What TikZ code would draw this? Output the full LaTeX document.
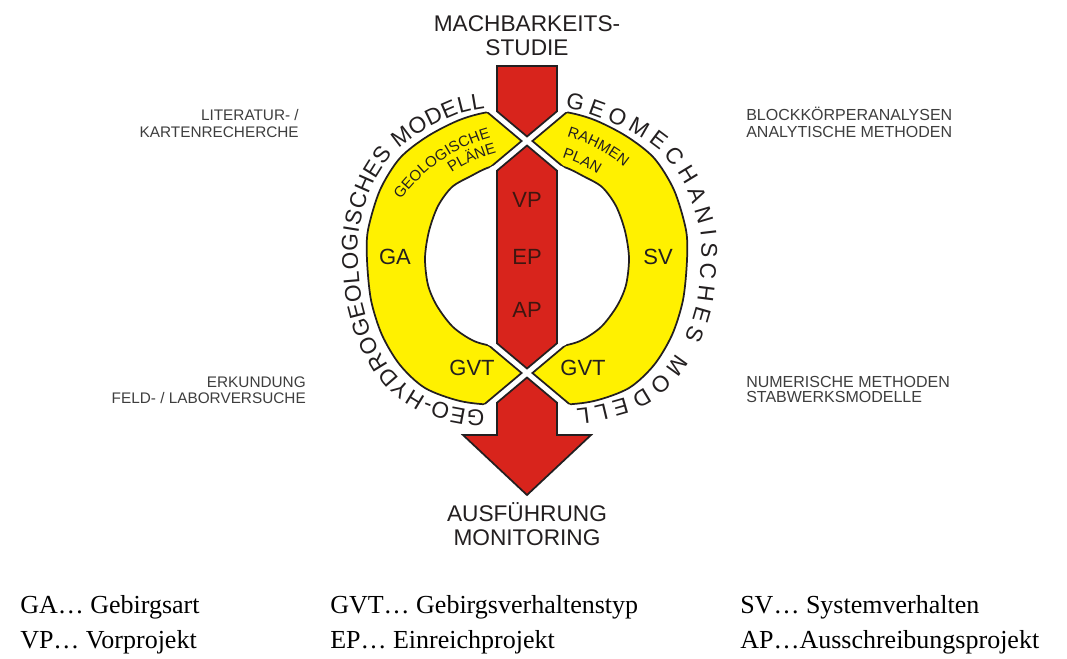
\documentclass[tikz,border=0pt]{standalone}
\usepackage{fontspec}
\setmainfont{Liberation Sans}
\newfontfamily\legendfont{Liberation Serif}
\usetikzlibrary{decorations.text}

\definecolor{ringyellow}{RGB}{255,241,0}
\definecolor{barred}{RGB}{216,36,28}
\definecolor{ink}{RGB}{35,31,32}
\definecolor{barink}{RGB}{62,22,16}
\definecolor{sidegray}{RGB}{62,62,62}

\tikzset{
  outline/.style={draw=ink, line width=1.3pt},
  redpiece/.style={outline, fill=barred},
  bandlabel/.style={font=\fontsize{16.5}{19}\selectfont, text=ink, inner sep=0pt},
  phaselabel/.style={font=\fontsize{16.5}{19}\selectfont, text=barink, inner sep=0pt},
  headlabel/.style={font=\fontsize{17}{20}\selectfont, text=ink, inner sep=0pt, anchor=base},
  sidelabelL/.style={font=\fontsize{11.5}{13}\selectfont, text=sidegray, inner sep=0pt, anchor=base east},
  sidelabelR/.style={font=\fontsize{12}{14}\selectfont, text=sidegray, inner sep=0pt, anchor=base west},
  legend/.style={font=\legendfont\fontsize{19.5}{22}\selectfont, text=black, inner sep=0pt, anchor=base west},
}

% outer and inner boundary of the yellow ring
\def\outerring{plot[smooth cycle] coordinates {(497,111) (462,119) (428,136) (400,158) (380,190) (368,230) (367,260) (371,300) (382,335) (400,365) (425,388) (460,401) (497,405) (557,405) (594,401) (629,388) (654,365) (672,335) (683,300) (687,260) (686,230) (674,190) (654,158) (626,136) (592,119) (557,111)}}
\def\innerring{plot[smooth cycle] coordinates {(490,167) (471,176) (452,187) (438,206) (429,231) (425,258) (428,285) (437,306) (453,327) (474,341) (497,347) (527,351) (557,347) (580,341) (601,327) (617,306) (626,285) (629,258) (625,231) (616,206) (602,187) (583,176) (564,167) (527,158)}}
% the two halves of the ring, cut apart by the white crossings
\def\leftzone{(200,50) -- (470,50) -- (470,97.7) -- (521.6,141) -- (470,184.3) -- (470,329.7) -- (521.6,373) -- (470,416.3) -- (470,470) -- (200,470) -- cycle}
\def\rightzone{(854,50) -- (584,50) -- (584,97.7) -- (532.4,141) -- (584,184.3) -- (584,329.7) -- (532.4,373) -- (584,416.3) -- (584,470) -- (854,470) -- cycle}
% baselines of the model names, just outside the ring
\def\leftbase{plot[smooth] coordinates {(485,410) (457,407.3) (420.1,394.3) (393.1,370.8) (374.1,339.2) (362.3,302.3) (358,260) (359.1,228.4) (371.8,186.2) (393.7,153) (423.6,130.5) (459.5,113.5) (485,108)}}
\def\rightbase{plot[smooth] coordinates {(565,108) (593.7,115.4) (629.8,131.3) (661.1,152.4) (684.9,185) (699.8,227.6) (701,260) (696.5,303.6) (683.5,341.1) (662.4,372.1) (633.9,394.3) (596.1,405.5) (576,408.5)}}

\begin{document}
\begin{tikzpicture}[x=0.75pt, y=-0.75pt]
\useasboundingbox (0,0) rectangle (1067,658);
\fill[white] (0,0) rectangle (1067,658);

% yellow bands
\begin{scope}
  \clip \leftzone \rightzone;
  \fill[ringyellow] \outerring;
\end{scope}
% band ends at the crossings
\begin{scope}
  \clip \outerring;
  \draw[outline] (470,97.7) -- (521.6,141) -- (470,184.3);
  \draw[outline] (470,329.7) -- (521.6,373) -- (470,416.3);
  \draw[outline] (584,97.7) -- (532.4,141) -- (584,184.3);
  \draw[outline] (584,329.7) -- (532.4,373) -- (584,416.3);
\end{scope}
\fill[white] \innerring;
\begin{scope}
  \clip \leftzone \rightzone;
  \draw[outline] \outerring;
  \draw[outline] \innerring;
\end{scope}

% red project stream
\draw[redpiece] (497,66) -- (557,66) -- (557,111.3) -- (527,136.5) -- (497,111.3) -- cycle;
\draw[redpiece] (527,145.5) -- (557,170.7) -- (557,343.3) -- (527,368.5) -- (497,343.3) -- (497,170.7) -- cycle;
\draw[redpiece] (527,377.5) -- (557,402.7) -- (557,435) -- (591,435) -- (527,495) -- (463,435) -- (497,435) -- (497,402.7) -- cycle;

% labels inside the ring and the stream
\node[bandlabel] (ga) at (395,257) {GA};
\node[bandlabel] (sv) at (658,257) {SV};
\node[bandlabel] (gvtl) at (472,368) {GVT};
\node[bandlabel] (gvtr) at (583,368) {GVT};
\node[phaselabel] (vp) at (527,200) {VP};
\node[phaselabel] (ep) at (527,257) {EP};
\node[phaselabel] (ap) at (527,310) {AP};

% curved texts in the bands
\path[decorate, decoration={text along path, text align=center, text color=ink,
  text={|\fontsize{11.3}{13}\selectfont|GEOLOGISCHE}}]
  plot[domain=-165:-84.6, samples=60, variable=\t] ({535+165.5*cos(\t)}, {297+165.5*sin(\t)});
\path[decorate, decoration={text along path, text align=center, text color=ink,
  text={|\fontsize{11.3}{13}\selectfont|PLÄNE}}]
  plot[domain=-154.4:-74.4, samples=60, variable=\t] ({535+149.5*cos(\t)}, {297+149.5*sin(\t)});
\path[decorate, decoration={text along path, text align=center, text color=ink,
  text={|\fontsize{11.3}{13}\selectfont|RAHMEN}}]
  plot[domain=-102.2:-22.2, samples=60, variable=\t] ({519+167.5*cos(\t)}, {297+167.5*sin(\t)});
\path[decorate, decoration={text along path, text align=center, text color=ink,
  text={|\fontsize{11.3}{13}\selectfont|PLAN}}]
  plot[domain=-105.1:-25.1, samples=60, variable=\t] ({519+146*cos(\t)}, {297+146*sin(\t)});

% curved model names around the ring
\path[decorate, decoration={text along path, text align=fit to path, text color=ink,
  text={|\fontsize{17}{20}\selectfont|GEO-HYDROGEOLOGISCHES MODELL}}] \leftbase;
\path[decorate, decoration={text along path, text align=fit to path, text color=ink,
  text={|\fontsize{17}{20}\selectfont|GEOMECHANISCHES MODELL}}] \rightbase;

% start and end of the stream
\node[headlabel] (mach) at (527,31.5) {MACHBARKEITS-};
\node[headlabel] (studie) at (527,55.5) {STUDIE};
\node[headlabel] (ausf) at (527,521) {AUSFÜHRUNG};
\node[headlabel] (monit) at (527,545) {MONITORING};

% methods at the sides
\node[sidelabelL] (lit) at (299,120.5) {LITERATUR- /};
\node[sidelabelL] (karten) at (299,137.5) {KARTENRECHERCHE};
\node[sidelabelL] (erk) at (306,387.5) {ERKUNDUNG};
\node[sidelabelL] (feld) at (306,403.5) {FELD- / LABORVERSUCHE};
\node[sidelabelR] (block) at (746,120.7) {BLOCKKÖRPERANALYSEN};
\node[sidelabelR] (analyt) at (746,137.7) {ANALYTISCHE METHODEN};
\node[sidelabelR] (numer) at (746,387.7) {NUMERISCHE METHODEN};
\node[sidelabelR] (stab) at (746,402.7) {STABWERKSMODELLE};

% legend
\node[legend] (lga) at (20,613) {GA… Gebirgsart};
\node[legend] (lgvt) at (330,613) {GVT… Gebirgsverhaltenstyp};
\node[legend] (lsv) at (740,613) {SV… Systemverhalten};
\node[legend] (lvp) at (20,648) {VP… Vorprojekt};
\node[legend] (lep) at (330,648) {EP… Einreichprojekt};
\node[legend] (lap) at (740,648) {AP…Ausschreibungsprojekt};
\end{tikzpicture}
\end{document}
